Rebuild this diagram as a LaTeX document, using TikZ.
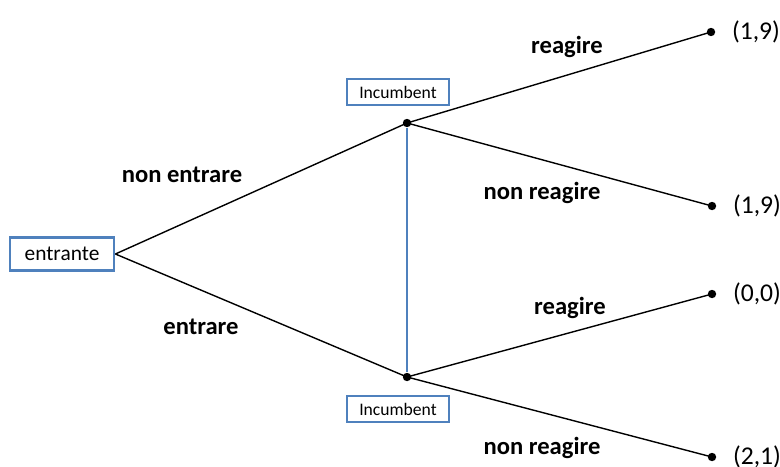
\documentclass[tikz,border=0pt]{standalone}
\usepackage{fontspec}
\setmainfont{Carlito}
\usetikzlibrary{positioning}
\definecolor{boxblue}{RGB}{79,129,189}

\begin{document}
\begin{tikzpicture}[x=0.5pt,y=-0.5pt,node distance=4pt]
        \tikzstyle{player}=[rectangle, draw=boxblue, line width=1.4pt, fill=white, inner sep=2pt]
        \tikzstyle{dot}=[circle, fill=black, inner sep=0pt, minimum size=4.2pt]
        \tikzstyle{move}=[font=\fontsize{12.3}{14}\selectfont\bfseries]
        \tikzstyle{payoff}=[font=\fontsize{12.8}{15}\selectfont, inner sep=0pt]
        \tikzstyle{branch}=[line width=0.7pt]
        \useasboundingbox (0,0) rectangle (780,466);

        % Entrant
        \node (ent) [player, minimum width=52pt, minimum height=16.5pt, font=\fontsize{10.7}{12}\selectfont] at (62,254) {entrante};

        % Incumbent decision nodes
        \node (up) [dot] at (407,123) {};
        \node (down) [dot] at (407,377) {};
        \node (incup) [player, minimum width=51pt, minimum height=13pt, font=\fontsize{8.8}{10}\selectfont] at (398,92) {Incumbent};
        \node (incdown) [player, minimum width=51pt, minimum height=13pt, font=\fontsize{8.8}{10}\selectfont] at (398,409) {Incumbent};

        % Payoffs
        \node (l1) [dot] at (711,32) {};
        \node (l2) [dot] at (712,206) {};
        \node (l3) [dot] at (712,294) {};
        \node (l4) [dot] at (712,457) {};
        \node (p1) [payoff, right = 8pt of l1] {(1,9)};
        \node (p2) [payoff, right = 8pt of l2] {(1,9)};
        \node (p3) [payoff, right = 8pt of l3] {(0,0)};
        \node (p4) [payoff, right = 8pt of l4] {(2,1)};

        % Moves
        \node (ne) [move] at (182,175) {non entrare};
        \node (e) [move] at (201,327) {entrare};
        \node (r1) [move] at (567,47) {reagire};
        \node (nr1) [move] at (542,193) {non reagire};
        \node (r2) [move] at (570,308) {reagire};
        \node (nr2) [move] at (542,448) {non reagire};

        % Branches
        \draw[branch] (ent.east) -- (up.center);
        \draw[branch] (ent.east) -- (down.center);
        \draw[branch] (up.center) -- (l1.center);
        \draw[branch] (up.center) -- (l2.center);
        \draw[branch] (down.center) -- (l3.center);
        \draw[branch] (down.center) -- (l4.center);

        % Information set
        \draw[boxblue, line width=0.6pt] (up) -- (down);
\end{tikzpicture}
\end{document}
